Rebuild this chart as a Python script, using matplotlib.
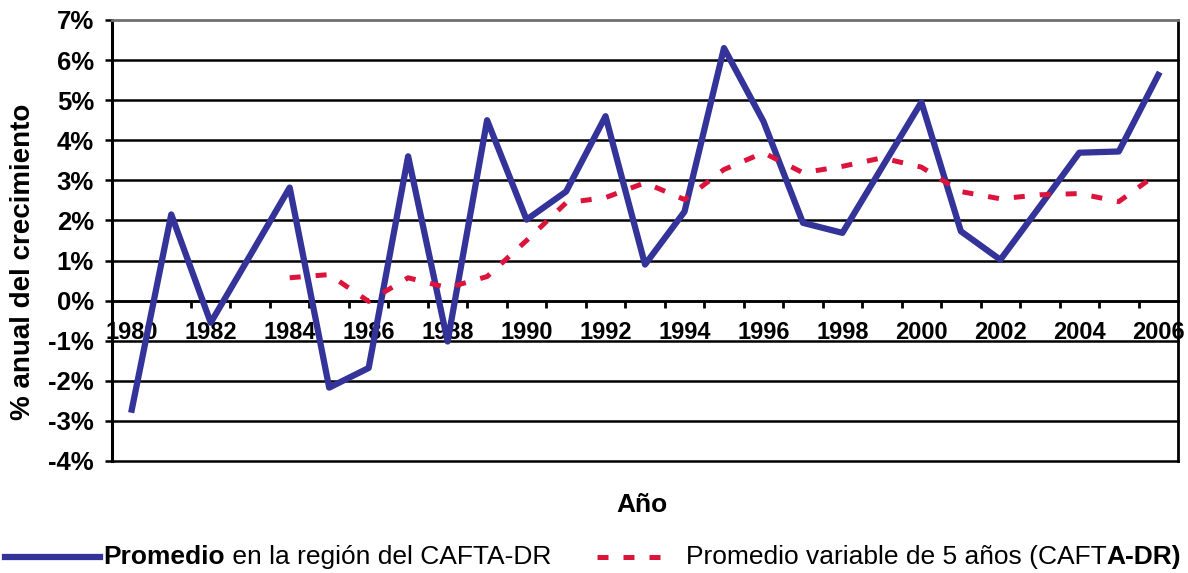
import matplotlib
matplotlib.use("Agg")
import matplotlib.pyplot as plt
from matplotlib.lines import Line2D
from matplotlib.ticker import FuncFormatter

plt.rcParams['font.family'] = ['Liberation Sans', 'DejaVu Sans']

# Data
years = list(range(1980, 2007))
promedio = [-2.72, 2.15, -0.55, 1.13, 2.82, -2.17, -1.68, 3.60, -1.02, 4.50,
            2.02, 2.72, 4.60, 0.90, 2.22, 6.30, 4.47, 1.94, 1.69, 3.32,
            4.95, 1.73, 1.02, 2.35, 3.69, 3.72, 5.63]
years_ma = list(range(1984, 2007))
promedio_5 = [0.57, 0.65, -0.02, 0.57, 0.32, 0.60, 1.50, 2.44, 2.57, 2.94,
              2.52, 3.27, 3.69, 3.19, 3.35, 3.56, 3.33, 2.72, 2.54, 2.64,
              2.67, 2.47, 3.18]
year_labels = list(range(1980, 2007, 2))
y_ticks = list(range(-4, 8))

BLUE = "#333399"
RED = "#dc143c"
DASH = (0, (2.2, 3.0))

fig = plt.figure(figsize=(11.88, 5.73), dpi=100)
ax = fig.add_axes([0.0943, 0.1955, 0.8973, 0.7696])

# horizontal grid lines
for t in y_ticks:
    if t == 7:
        continue
    ax.axhline(t, color="black", lw=1.8, zorder=1, clip_on=False)

ax.plot(years, promedio, color=BLUE, lw=4.5, zorder=3)
ax.plot(years_ma, promedio_5, color=RED, lw=3.6, linestyle=DASH, zorder=4)

ax.set_xlim(1979.5, 2006.5)
ax.set_ylim(-4, 7)

# spines
ax.spines["bottom"].set_position(("data", 0))
ax.spines["bottom"].set_linewidth(1.8)
ax.spines["left"].set_linewidth(2.2)
ax.spines["right"].set_linewidth(2.0)
ax.spines["top"].set_color("#707070")
ax.spines["top"].set_linewidth(2.0)

# x axis: labels every 2 years, ticks between years
ax.set_xticks(year_labels)
ax.set_xticklabels([str(y) for y in year_labels], fontsize=17, fontweight="bold")
ax.set_xticks([y + 0.5 for y in years[:-1]], minor=True)
ax.tick_params(axis="x", which="major", length=0, pad=15)
ax.tick_params(axis="x", which="minor", length=5, width=2, direction="out")

# y axis
ax.set_yticks(y_ticks)
ax.yaxis.set_major_formatter(FuncFormatter(lambda v, p: f"{int(v)}%"))
ax.tick_params(axis="y", length=5, width=1.8, direction="out", pad=8)
for lab in ax.get_yticklabels():
    lab.set_fontsize(18.5)
    lab.set_fontweight("bold")

fig.text(23 / 1188, 1 - 262 / 573, "% anual del crecimiento", rotation=90,
         ha="center", va="center", fontsize=20, fontweight="bold")
fig.text(642 / 1188, 1 - 505 / 573, "Año", ha="center", va="center",
         fontsize=19, fontweight="bold")

# legend drawn by hand at the bottom
ly = 1 - 557 / 573
fig.add_artist(Line2D([5 / 1188, 100 / 1188], [ly, ly], color=BLUE, lw=4.5,
                      transform=fig.transFigure))
fig.add_artist(Line2D([597 / 1188, 668 / 1188], [ly, ly], color=RED, lw=3.6,
                      linestyle=DASH, transform=fig.transFigure))

renderer = fig.canvas.get_renderer()


def text_run(x, parts):
    for txt, weight in parts:
        t = fig.text(x, ly, txt, ha="left", va="center", fontsize=19,
                     fontweight=weight)
        bb = t.get_window_extent(renderer=renderer)
        x = bb.x1 / fig.bbox.width


text_run(103 / 1188, [("Promedio", "bold"), (" en la región del CAFTA-DR", "normal")])
text_run(686 / 1188, [("Promedio variable de 5 años (CAFT", "normal"), ("A-DR)", "bold")])

fig.savefig("out.png", dpi=100)
